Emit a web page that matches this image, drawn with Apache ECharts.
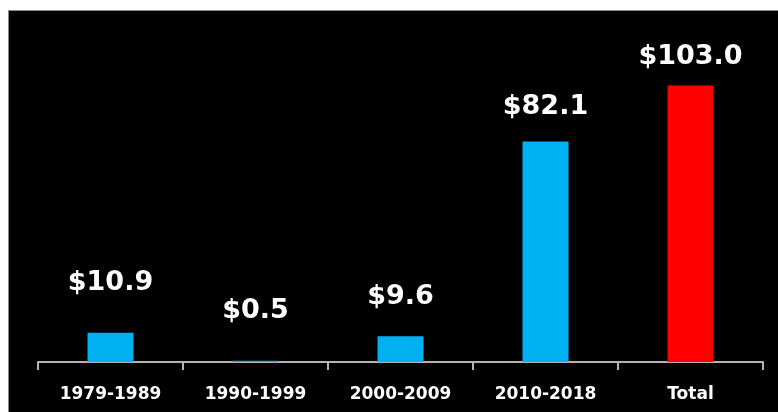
<!DOCTYPE html>
<html>
<head>
<meta charset="utf-8">
<script src="https://cdn.jsdelivr.net/npm/echarts@6/dist/echarts.min.js"></script>
<style>
  html, body { margin: 0; padding: 0; background: #ffffff; width: 778px; height: 412px; overflow: hidden; }
  #frame { position: absolute; left: 8px; top: 10px; width: 770px; height: 402px; background: #000; border-top: 1px solid #8a8a8a; border-left: 1px solid #8a8a8a; box-sizing: border-box; }
  #chart { position: absolute; left: 1px; top: 1px; width: 769px; height: 401px; }
</style>
</head>
<body>
<div id="frame"><div id="chart"></div></div>
<script>
// Spending by period, in billions of dollars
const periods = ['1979-1989', '1990-1999', '2000-2009', '2010-2018', 'Total'];
const amounts = [10.9, 0.5, 9.6, 82.1, 103.0];

// Presentation settings
const barColors = ['#00B0F0', '#00B0F0', '#00B0F0', '#00B0F0', '#FF0000'];
const labelDistances = [38, 38, 27, 23, 17];
const fontStack = '"DejaVu Sans", sans-serif';

const chart = echarts.init(document.getElementById('chart'), null, { renderer: 'canvas' });

chart.setOption({
  backgroundColor: '#000000',
  animation: false,
  grid: { left: 28, right: 16, top: 1, bottom: 51 },
  xAxis: {
    type: 'category',
    data: periods,
    boundaryGap: true,
    axisLine: { show: true, lineStyle: { color: '#b4b4b4', width: 2 } },
    axisTick: { show: true, length: 8, lineStyle: { color: '#b4b4b4', width: 2 } },
    axisLabel: {
      color: '#ffffff',
      fontFamily: fontStack,
      fontWeight: 'bold',
      fontSize: 17,
      margin: 24
    }
  },
  yAxis: {
    type: 'value',
    min: 0,
    max: 130,
    show: false,
    splitLine: { show: false }
  },
  series: [{
    type: 'bar',
    barWidth: 46,
    data: amounts.map((v, i) => ({
      value: v,
      itemStyle: { color: barColors[i] },
      label: { distance: labelDistances[i] }
    })),
    label: {
      show: true,
      position: 'top',
      color: '#ffffff',
      fontFamily: fontStack,
      fontWeight: 'bold',
      fontSize: 27,
      lineHeight: 24,
      formatter: p => '$' + p.value.toFixed(1)
    }
  }]
});
</script>
</body>
</html>
